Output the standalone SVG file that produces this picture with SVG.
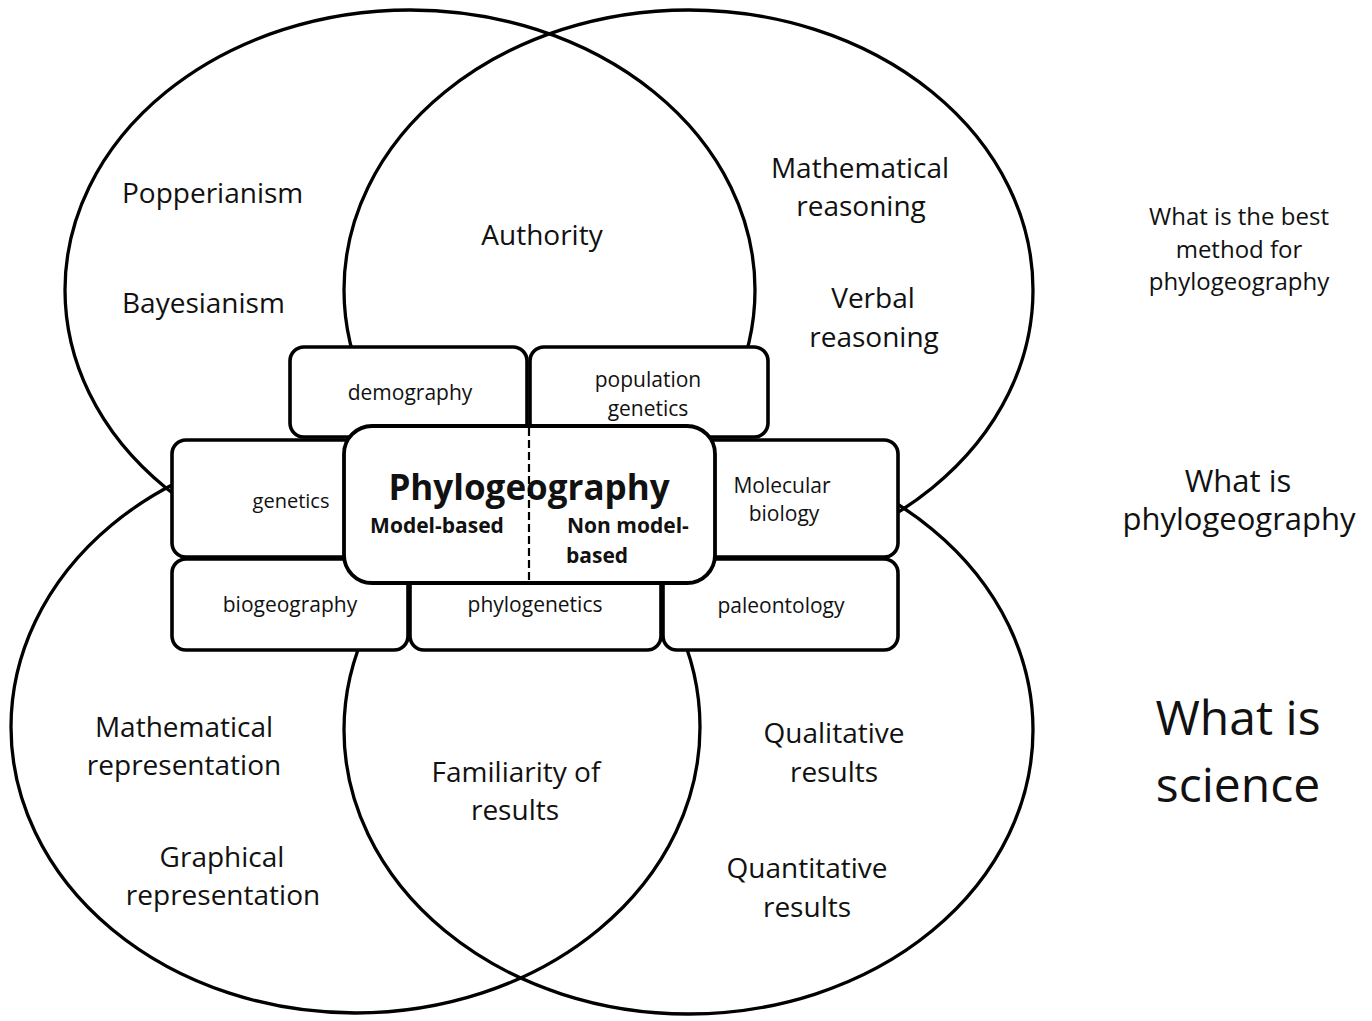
<svg xmlns="http://www.w3.org/2000/svg" width="1372" height="1021" viewBox="0 0 1372 1021">
  <style>
    .ring { fill: none; stroke: #000; stroke-width: 3.3; }
    .box { fill: #fff; stroke: #000; stroke-width: 3.6; }
    .hub { fill: #fff; stroke: #000; stroke-width: 3.8; }
    text { font-family: "Open Sans", "Noto Sans", sans-serif; fill: #111; }
    .big { font-size: 28px; text-anchor: middle; }
    .lft { font-size: 28px; text-anchor: start; }
    .lbl { font-size: 21px; text-anchor: middle; }
    .q1 { font-size: 24px; text-anchor: middle; }
    .q2 { font-size: 31px; text-anchor: middle; }
    .q3 { font-size: 48px; text-anchor: middle; }
    .title { font-size: 35px; font-weight: bold; text-anchor: middle; }
    .sub { font-size: 21px; font-weight: bold; }
  </style>

  <rect width="1372" height="1021" fill="#fff"/>

  <!-- four overlapping circles -->
  <g id="circles">
    <ellipse id="circle-philosophy" class="ring" cx="410" cy="290" rx="345" ry="280"/>
    <ellipse id="circle-reasoning" class="ring" cx="688.5" cy="290" rx="344.5" ry="280"/>
    <ellipse id="circle-representation" class="ring" cx="355.5" cy="727" rx="344.5" ry="286"/>
    <ellipse id="circle-results" class="ring" cx="688.5" cy="730" rx="344.5" ry="284"/>
  </g>

  <!-- circle contents -->
  <g id="circle-labels">
    <text class="lft" x="122" y="203">Popperianism</text>
    <text class="lft" x="122" y="313">Bayesianism</text>
    <text class="big" x="542" y="245">Authority</text>
    <text class="big" x="860" y="178">Mathematical</text>
    <text class="big" x="861" y="216">reasoning</text>
    <text class="big" x="873" y="308">Verbal</text>
    <text class="big" x="874" y="347">reasoning</text>
    <text class="big" x="184" y="737">Mathematical</text>
    <text class="big" x="184" y="775">representation</text>
    <text class="big" x="222" y="867">Graphical</text>
    <text class="big" x="223" y="905">representation</text>
    <text class="big" x="516" y="782">Familiarity of</text>
    <text class="big" x="515" y="820">results</text>
    <text class="big" x="834" y="743">Qualitative</text>
    <text class="big" x="834" y="782">results</text>
    <text class="big" x="807" y="878">Quantitative</text>
    <text class="big" x="807" y="917">results</text>
  </g>

  <!-- questions on the right -->
  <g id="questions">
    <text class="q1" x="1239" y="225">What is the best</text>
    <text class="q1" x="1239" y="258">method for</text>
    <text class="q1" x="1239" y="290">phylogeography</text>
    <text class="q2" x="1238" y="492">What is</text>
    <text class="q2" x="1239" y="530">phylogeography</text>
    <text class="q3" x="1238" y="735">What is</text>
    <text class="q3" x="1238" y="802">science</text>
  </g>

  <!-- surrounding discipline boxes -->
  <g id="node-demography">
    <rect class="box" x="290" y="347" width="237" height="90" rx="14"/>
    <text class="lbl" x="410" y="400">demography</text>
  </g>
  <g id="node-population-genetics">
    <rect class="box" x="530" y="347" width="238" height="90" rx="14"/>
    <text class="lbl" x="648" y="387">population</text>
    <text class="lbl" x="648" y="416">genetics</text>
  </g>
  <g id="node-genetics">
    <rect class="box" x="172" y="440" width="190" height="117" rx="14"/>
    <text class="lbl" x="291" y="508" style="font-size:20px">genetics</text>
  </g>
  <g id="node-molecular-biology">
    <rect class="box" x="700" y="440" width="198" height="117" rx="14"/>
    <text class="lbl" x="782" y="493">Molecular</text>
    <text class="lbl" x="784" y="521">biology</text>
  </g>
  <g id="node-biogeography">
    <rect class="box" x="172" y="559" width="236" height="91" rx="14"/>
    <text class="lbl" x="290" y="612">biogeography</text>
  </g>
  <g id="node-phylogenetics">
    <rect class="box" x="410" y="559" width="251" height="91" rx="14"/>
    <text class="lbl" x="535" y="612">phylogenetics</text>
  </g>
  <g id="node-paleontology">
    <rect class="box" x="663" y="559" width="235" height="91" rx="14"/>
    <text class="lbl" x="781" y="613">paleontology</text>
  </g>

  <!-- central box, split by a dashed divider -->
  <g id="node-phylogeography">
    <rect class="hub" x="344" y="426" width="371" height="157" rx="28"/>
    <text class="title" x="529" y="500">Phylogeography</text>
    <text class="sub" x="437" y="533" text-anchor="middle">Model-based</text>
    <text class="sub" x="567" y="533">Non model-</text>
    <text class="sub" x="566" y="563">based</text>
  </g>

  <g id="connectors">
    <line x1="529" y1="428" x2="529" y2="582" stroke="#000" stroke-width="2.2" stroke-dasharray="8 4"/>
  </g>
</svg>
